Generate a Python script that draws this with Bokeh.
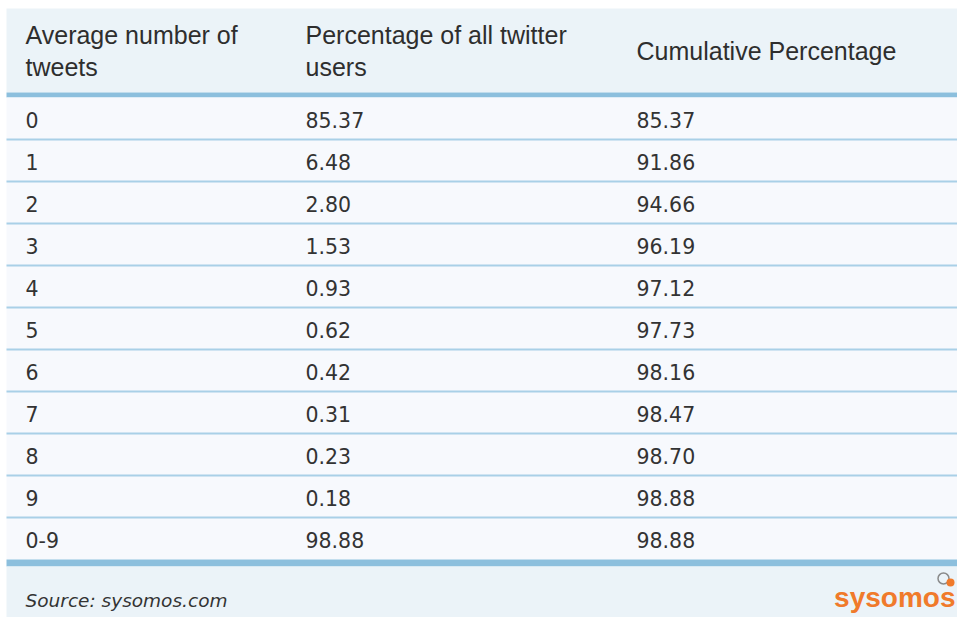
from bokeh.plotting import figure
from bokeh.models import Range1d, ColumnDataSource
from bokeh.core.properties import value
from bokeh.embed import file_html
from bokeh.resources import INLINE

# ---- data ----
headers = ["Average number of\ntweets", "Percentage of all twitter\nusers", "Cumulative Percentage"]
tweets = ["0", "1", "2", "3", "4", "5", "6", "7", "8", "9", "0-9"]
pct_users = [85.37, 6.48, 2.80, 1.53, 0.93, 0.62, 0.42, 0.31, 0.23, 0.18, 98.88]
cum_pct = [85.37, 91.86, 94.66, 96.19, 97.12, 97.73, 98.16, 98.47, 98.70, 98.88, 98.88]
source_text = "Source: sysomos.com"
brand = "sysomos"

# ---- layout ----
W, H = 957, 617
LEFT = 6
TOP = 8
HEAD_BOTTOM = 92
BODY_TOP = 97
ROW_H = 42
COL_X = [25, 305, 636]

HEAD_BG = "#EBF3F8"
BODY_BG = "#F7F9FD"
THICK = "#8CBFDD"
THIN = "#A9D0E7"
TXT = "#333333"

p = figure(width=W, height=H, output_backend="svg", toolbar_location=None,
           x_range=Range1d(0, W), y_range=Range1d(H, 0),
           min_border=0, border_fill_color="white", background_fill_color="white")
p.axis.visible = False
p.grid.visible = False
p.outline_line_color = None

n = len(tweets)
body_bottom = BODY_TOP + ROW_H * n

# backgrounds
p.quad(left=[LEFT], right=[W + 5], top=[TOP], bottom=[HEAD_BOTTOM], fill_color=HEAD_BG, line_color=None)
p.quad(left=[LEFT], right=[W + 5], top=[HEAD_BOTTOM], bottom=[BODY_TOP], fill_color=THICK, line_color=None)
p.quad(left=[LEFT], right=[W + 5], top=[BODY_TOP], bottom=[body_bottom], fill_color=BODY_BG, line_color=None)
p.quad(left=[LEFT], right=[W + 5], top=[body_bottom], bottom=[body_bottom + 7], fill_color=THICK, line_color=None)
p.quad(left=[LEFT], right=[W + 5], top=[body_bottom + 7], bottom=[H + 5], fill_color=HEAD_BG, line_color=None)

# thin row separators
seps = [BODY_TOP + ROW_H * (i + 1) for i in range(n - 1)]
p.segment(x0=[LEFT] * len(seps), x1=[W + 5] * len(seps), y0=seps, y1=seps, line_color=THIN, line_width=2)

# header text
head_font = value("Liberation Sans")
hx, hy, ht = [], [], []
for ci, h in enumerate(headers):
    lines = h.split("\n")
    if len(lines) == 2:
        for li, t in enumerate(lines):
            hx.append(COL_X[ci]); hy.append(34 + 32 * li); ht.append(t)
    else:
        hx.append(COL_X[ci]); hy.append(50); ht.append(lines[0])
p.text(x=hx, y=hy, text=ht, text_font=head_font, text_font_size="25px",
       text_color="#2e2e2e", text_baseline="middle", text_align="left")

# body text
rows_y = [BODY_TOP + ROW_H * i + 22 for i in range(n)]
src = ColumnDataSource(dict(
    y=rows_y,
    a=tweets,
    b=[f"{v:.2f}" for v in pct_users],
    c=[f"{v:.2f}" for v in cum_pct],
))
body_font = value("DejaVu Sans")
for ci, col in enumerate(["a", "b", "c"]):
    p.text(x=COL_X[ci], y="y", text=col, source=src, text_font=body_font,
           text_font_size="20.5px", text_color=TXT, text_baseline="middle")

# footer
p.text(x=[25], y=[600], text=[source_text], text_font=body_font, text_font_size="18.5px",
       text_font_style="italic", text_color=TXT, text_baseline="middle")
p.text(x=[955], y=[597], text=[brand], text_font=value("Liberation Sans"),
       text_font_size="28px", text_font_style="bold", text_color="#F07A2B",
       text_baseline="middle", text_align="right")
# small speech bubble mark of the logo
p.scatter(x=[943], y=[578], size=11, marker="circle", fill_color=None, line_color="#8a8a8a", line_width=1.5)
p.scatter(x=[950], y=[582], size=8, marker="circle", fill_color="#F07A2B", line_color=None)

open("out.html", "w").write(file_html(p, INLINE))
